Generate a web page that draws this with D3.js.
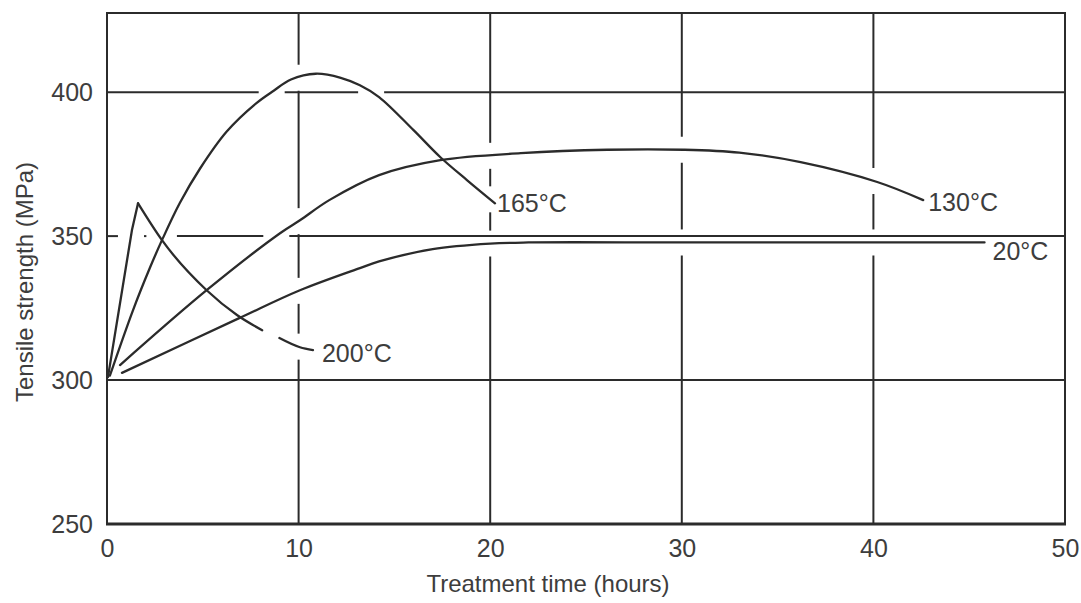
<!DOCTYPE html>
<html>
<head>
<meta charset="utf-8">
<script src="https://cdn.jsdelivr.net/npm/d3@7"></script>
<style>
  body { margin: 0; background: #fff; }
  svg { display: block; font-family: "Liberation Sans", Arial, sans-serif; }
</style>
</head>
<body>
<svg id="chart" width="1081" height="603"></svg>
<script>
// values: time (hours) and tensile strength (MPa)
// a null strength marks the break in the dashed 200°C curve
var t200 = [0.05, 1.3, 1.62, 2.87, 5.2, 6.8, 8.1, 8.55, 9.0, 10.07, 10.75];
var v200 = [301, 352, 361.4, 348.6, 331.2, 322.5, 317.3, null, 314.6, 311.4, 310.4];

var t165 = [0.15, 1.36, 2.24, 2.87, 3.8, 4.85, 6.26, 7.8, 8.7, 9.6, 10.9, 12.2, 13.2, 14.2, 16, 17.4, 18.8, 20.25];
var v165 = [301.5, 324.3, 339, 348.6, 361.5, 373.4, 386.4, 396.2, 400.5, 404.4, 406.4, 405, 402.4, 398.3, 386.8, 377.4, 369.4, 361.4];

var t130 = [0.68, 5.2, 9.03, 10.07, 11.6, 14.2, 17.4, 21.6, 26.1, 30.1, 33, 36.2, 40.2, 42.6];
var v130 = [305.2, 331.2, 351, 355.5, 362.5, 371.2, 376.4, 378.8, 380, 380, 379, 375.7, 368.8, 362.5];

var t20 = [0.78, 6.9, 10.07, 13.2, 14.2, 17, 20, 22, 30, 40, 45.8];
var v20 = [302.5, 321.5, 331.2, 338.9, 341.2, 345.5, 347.4, 347.8, 347.8, 347.8, 347.8];

var seriesNames = ["200°C", "165°C", "130°C", "20°C"];
var xTicks = [0, 10, 20, 30, 40, 50];
var yTicks = [250, 300, 350, 400];
var xGrid = [10, 20, 30, 40];
var yGrid = [300, 350, 400];

var ink = "#2b2b2b";
var textColor = "#3d3d3d";

var svg = d3.select("#chart");

var x = d3.scaleLinear().domain([0, 50]).range([107, 1065]);
var y = d3.scaleLinear().domain([250, 427.5]).range([524, 13]);

function pack(ts, vs) {
    return ts.map(function(t, i) { return { t: t, v: vs[i] }; });
}

// sharp: the 200°C curve rises straight to a pointed peak
var series = [
    { name: seriesNames[0], data: pack(t200, v200), sharp: true, dx: 9, dy: 12 },
    { name: seriesNames[1], data: pack(t165, v165), dx: 2, dy: 9 },
    { name: seriesNames[2], data: pack(t130, v130), dx: 5, dy: 11 },
    { name: seriesNames[3], data: pack(t20, v20), dx: 8, dy: 18 }
];

// the gridlines of the original are broken where a curve crosses them
var gapHalf = 13;

function crossingsAt(key, value) {
    var other = key == "t" ? "v" : "t";
    var scale = key == "t" ? y : x;
    var hits = [];
    series.forEach(function(s) {
        for (var i = 1; i < s.data.length; i++) {
            var a = s.data[i - 1], b = s.data[i];
            if (a.v == null || b.v == null) continue;
            if ((a[key] - value) * (b[key] - value) <= 0 && a[key] != b[key]) {
                var f = (value - a[key]) / (b[key] - a[key]);
                hits.push(scale(a[other] + f * (b[other] - a[other])));
            }
        }
    });
    return hits.sort(d3.ascending);
}

function segmentsBetween(start, end, hits) {
    var segs = [];
    var cur = start;
    hits.forEach(function(h) {
        if (h - gapHalf > cur) segs.push([cur, h - gapHalf]);
        cur = Math.max(cur, h + gapHalf);
    });
    if (cur < end) segs.push([cur, end]);
    return segs;
}

var grid = svg.append("g")
    .attr("stroke", ink)
    .attr("stroke-width", 2);

xGrid.forEach(function(t) {
    var segs = segmentsBetween(y.range()[1], y.range()[0], crossingsAt("t", t));
    segs.forEach(function(sg) {
        grid.append("line")
            .attr("x1", x(t)).attr("x2", x(t))
            .attr("y1", sg[0]).attr("y2", sg[1]);
    });
});

yGrid.forEach(function(v) {
    var segs = segmentsBetween(x.range()[0], x.range()[1], crossingsAt("v", v));
    segs.forEach(function(sg) {
        grid.append("line")
            .attr("x1", sg[0]).attr("x2", sg[1])
            .attr("y1", y(v)).attr("y2", y(v));
    });
});

// frame
var frame = svg.append("g").attr("stroke", ink).attr("fill", "none");
frame.append("path")
    .attr("stroke-width", 2)
    .attr("d", "M" + x(0) + "," + y(250) + "V" + y(427.5) + "H" + x(50) + "V" + y(250));
frame.append("line")
    .attr("stroke-width", 3)
    .attr("x1", x(0) - 1).attr("x2", x(50) + 1)
    .attr("y1", y(250)).attr("y2", y(250));

// curves
var curves = svg.append("g").attr("fill", "none").attr("stroke", ink)
    .attr("stroke-width", 2.3).attr("stroke-linejoin", "round").attr("stroke-linecap", "round");

function lineWith(curve) {
    return d3.line()
        .defined(function(d) { return d.v != null; })
        .x(function(d) { return x(d.t); })
        .y(function(d) { return y(d.v); })
        .curve(curve);
}

series.forEach(function(s) {
    if (s.sharp) {
        var peak = d3.maxIndex(s.data, function(d) { return d.v; });
        curves.append("path").datum(s.data.slice(0, peak + 1)).attr("d", lineWith(d3.curveLinear));
        curves.append("path").datum(s.data.slice(peak)).attr("d", lineWith(d3.curveMonotoneX));
    } else {
        curves.append("path").datum(s.data).attr("d", lineWith(d3.curveCatmullRom.alpha(0.5)));
    }

    var last = s.data[s.data.length - 1];
    svg.append("text")
        .attr("x", x(last.t) + s.dx)
        .attr("y", y(last.v) + s.dy)
        .attr("fill", textColor)
        .attr("font-size", 25)
        .text(s.name);
});

// axes: labels only, no tick marks
var yAxis = svg.append("g")
    .attr("transform", "translate(" + x(0) + ",0)")
    .call(d3.axisLeft(y).tickValues(yTicks).tickSize(0).tickPadding(14));
var xAxis = svg.append("g")
    .attr("transform", "translate(0," + y(250) + ")")
    .call(d3.axisBottom(x).tickValues(xTicks).tickSize(0).tickPadding(15));

[xAxis, yAxis].forEach(function(ax) {
    ax.select(".domain").remove();
    ax.selectAll("text")
        .attr("font-family", "Liberation Sans, Arial, sans-serif")
        .attr("font-size", 25)
        .attr("fill", textColor);
});

svg.append("text")
    .attr("x", 548)
    .attr("y", 592)
    .attr("text-anchor", "middle")
    .attr("font-size", 24)
    .attr("fill", textColor)
    .text("Treatment time (hours)");

svg.append("text")
    .attr("transform", "translate(33,282) rotate(-90)")
    .attr("text-anchor", "middle")
    .attr("font-size", 24)
    .attr("fill", textColor)
    .text("Tensile strength (MPa)");
</script>
</body>
</html>
